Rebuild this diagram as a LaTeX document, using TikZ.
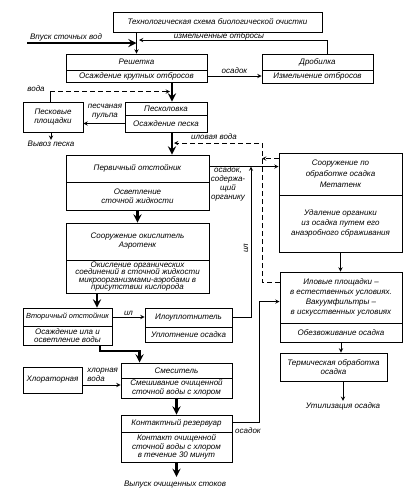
\documentclass[tikz,border=0pt]{standalone}
\usepackage{fontspec}
\setmainfont{Liberation Sans}
\usetikzlibrary{calc,positioning}

\begin{document}
\begin{tikzpicture}[x=1pt, y=-1pt, >=stealth, line width=0.9pt,
  every node/.style={font=\fontsize{8}{9}\selectfont\itshape, inner sep=1pt, align=center},
  box/.style 2 args={draw, minimum width=#1pt, minimum height=#2pt},
  flow/.style={->, line width=2.6pt},
  dashline/.style={dash pattern=on 5pt off 3pt}]
  \useasboundingbox (0,0) rectangle (410,504);

  % Header
  \node[box={209}{20}] (title) at (217.5,22) {Технологическая схема биологической очистки};

  % Mechanical treatment
  \node[box={141}{16}] (reshtop) at (136.5,62) {Решетка};
  \node[box={141}{12}] (reshbot) at (136.5,76) {Осаждение крупных отбросов};
  \node[box={111}{16}] (drobtop) at (317.5,62) {Дробилка};
  \node[box={111}{13}] (drobbot) at (317.5,76.5) {Измельчение отбросов};
  \node[box={82}{13}] (pesktop) at (166,108.5) {Песколовка};
  \node[box={82}{17}] (peskbot) at (166,123.5) {Осаждение песка};
  \node[box={60}{30}] (pplosh) at (53,117) {Песковые\\площадки};
  \node[box={143}{27}] (pervtop) at (137.5,168.5) {Первичный отстойник};
  \node[box={143}{28}] (pervbot) at (137.5,196) {Осветление\\сточной жидкости};

  % Biological treatment
  \node[box={143}{37}] (aerotop) at (137.5,241.5) {Сооружение окислитель\\Аэротенк};
  \node[box={143}{33}, font=\fontsize{8}{7.6}\selectfont\itshape] (aerobot) at (137.5,276.5) {Окисление органических\\соединений в сточной жидкости\\микроорганизмами-аэробами в\\присутствии кислорода};
  \node[box={89}{18}, font=\fontsize{7.4}{8.5}\selectfont\itshape] (vtortop) at (67.5,317) {Вторичный отстойник};
  \node[box={89}{19}, font=\fontsize{8}{8.5}\selectfont\itshape] (vtorbot) at (67.5,335.5) {Осаждение ила и\\осветление воды};
  \node[box={87}{19}] (iloutop) at (188.5,317.5) {Илоуплотнитель};
  \node[box={87}{15}] (iloubot) at (188.5,334.5) {Уплотнение осадка};

  % Disinfection
  \node[box={111}{15}] (smestop) at (176.5,370.5) {Смеситель};
  \node[box={111}{20}, font=\fontsize{8}{8.5}\selectfont\itshape] (smesbot) at (176.5,388) {Смешивание очищенной\\сточной воды с хлором};
  \node[box={59}{26}] (chlor) at (52.5,380) {Хлораторная};
  \node[box={111}{17}] (konttop) at (176.5,423.5) {Контактный резервуар};
  \node[box={111}{30}, font=\fontsize{8}{8.5}\selectfont\itshape] (kontbot) at (176.5,447) {Контакт очищенной\\сточной воды с хлором\\в течение 30 минут};

  % Sludge treatment
  \node[box={123}{42}, font=\fontsize{8}{11}\selectfont\itshape] (metatop) at (340.5,174) {Сооружение по\\обработке осадка\\Метатенк};
  \node[box={123}{57}, font=\fontsize{8}{10}\selectfont\itshape] (metabot) at (340.5,223.5) {Удаление органики\\из осадка путем его\\анаэробного сбраживания};
  \node[box={122}{51}, font=\fontsize{8}{10}\selectfont\itshape] (ilpltop) at (341,297.5) {Иловые площадки --\\в естественных условиях.\\Вакуумфильтры --\\в искусственных условиях};
  \node[box={122}{19}] (ilplbot) at (341,332.5) {Обезвоживание осадка};
  \node[box={107}{28}] (term) at (333.5,367) {Термическая обработка\\осадка};

  % Free labels
  \node (inlab) at (66,37) {Впуск сточных вод};
  \node[anchor=base] (retlab) at (219,38) {измельченные отбросы};
  \node (voda) at (36,89) {вода};
  \node (pulp) at (105,112) {песчаная\\пульпа};
  \node (vyvoz) at (51,144) {Вывоз песка};
  \node (ilvoda) at (214,137) {иловая вода};
  \node (orglab) at (228,184) {осадок,\\содержа-\\щий\\органику};
  \node[rotate=90] (illab) at (246,248) {ил};
  \node[align=left, anchor=west] (clvoda) at (86,375) {хлорная\\вода};
  \node (osad3) at (248,431) {осадок};
  \node (vypusk) at (175,485) {Выпуск очищенных стоков};
  \node (util) at (343,406) {Утилизация осадка};

  % Helper coordinates
  \coordinate (mainx) at (172,0);
  \coordinate (inlet) at (27,43);
  \coordinate (ret) at (139,40);
  \coordinate (dsh) at (262,143);
  \coordinate (ilx) at (251,0);
  \coordinate (ax) at (97,0);
  \coordinate (bend) at (100,351);
  \coordinate (mout) at ([yshift=-6pt]metatop.north west);
  \coordinate (ilout) at ([yshift=-11pt]ilpltop.north west);
  \coordinate (pout) at ([yshift=-12pt]pervtop.north east);
  \coordinate (cl) at ([yshift=-5pt]chlor.east);
  \coordinate (kout) at ([yshift=-8pt]konttop.north east);
  \coordinate (kin) at ([yshift=-30pt]ilpltop.north west);

  % Inflow and screening
  \draw[->] (reshtop.north |- title.south) -- (reshtop.north);
  \draw[flow] (inlet) -- (inlet -| reshtop.north);
  \draw[->] ([xshift=10pt]drobtop.north) |- (ret);
  \draw[->] (reshbot.east) -- (reshbot.east -| drobbot.west) node[midway,above=1pt] (osad1) {осадок};
  \draw[flow] (reshbot.south -| mainx) -- (pesktop.north -| mainx);

  % Sand
  \draw ([xshift=-3pt]pplosh.north) -- ++(0,-10) coordinate (w1);
  \draw[dashline,->,shorten >=2pt] (w1) -- (w1 -| mainx);
  \draw[->] (peskbot.west) -- (peskbot.west -| pplosh.east);
  \draw[->] (vyvoz.north |- pplosh.south) -- (vyvoz.north);
  \draw[flow] (peskbot.south -| mainx) -- (pervtop.north -| mainx);

  % Sludge water return
  \draw[dashline,->,shorten >=2pt] (ilout) -| (dsh) -- (dsh -| mainx);
  \draw[dashline,->] (mout) -- (mout -| dsh);

  % Sludge line
  \draw[->] (pout) -- (pout -| metatop.west);
  \draw[->] (iloutop.east) -| (ilx |- pout);
  \draw[->] (metabot.south) -- (metabot.south |- ilpltop.north);
  \draw[->] (ilplbot.south) -- (ilplbot.south |- term.north);
  \draw[->] (term.south -| util.north) -- (util.north);

  % Water line
  \draw[flow] (pervbot.south) -- (aerotop.north);
  \draw[flow] (aerobot.south -| ax) -- (vtortop.north -| ax);
  \draw[->] (vtortop.east) -- (vtortop.east -| iloutop.west) node[midway,above] (il2) {ил};
  \draw[flow] (vtorbot.south -| bend) -- (bend) -| ([xshift=19pt]smestop.north west);
  \draw[->] (cl) -- (cl -| smesbot.west);
  \draw[flow] (smesbot.south) -- (konttop.north);
  \draw[flow, shorten >=3pt] (kontbot.south) -- (kontbot.south |- vypusk.north);
  \draw[->] (kout) -| ([xshift=-20pt]kin) -- (kin);
\end{tikzpicture}
\end{document}
